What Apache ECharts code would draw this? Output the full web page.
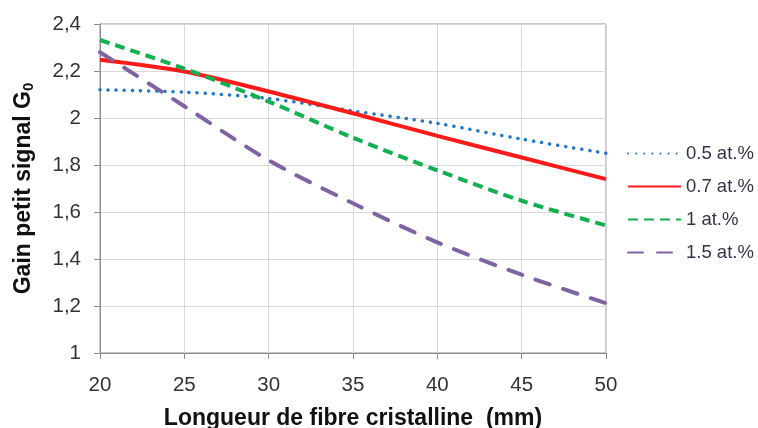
<!DOCTYPE html>
<html><head><meta charset="utf-8">
<script src="https://cdn.jsdelivr.net/npm/echarts@6/dist/echarts.min.js"></script>
<style>html,body{margin:0;padding:0;background:#fff}#c{width:758px;height:428px}</style>
</head><body><div id="c"></div>
<script>
var xValues = [20, 25, 30, 35, 40, 45, 50];
var s05 = [2.12, 2.11, 2.083, 2.03, 1.977, 1.91, 1.85];
var s07 = [2.248, 2.198, 2.113, 2.02, 1.924, 1.832, 1.74];
var s10 = [2.332, 2.21, 2.07, 1.916, 1.777, 1.648, 1.543];
var s15 = [2.28, 2.05, 1.82, 1.637, 1.471, 1.333, 1.212];
var seriesNames = ['0.5 at.%', '0.7 at.%', '1 at.%', '1.5 at.%'];
var xTicks = {min: 20, max: 50, step: 5};
var yTicks = {min: 1, max: 2.4, step: 0.2};

function pairs(v){ return xValues.map(function(x,i){ return [x, v[i]]; }); }
var chart = echarts.init(document.getElementById('c'), null, {renderer:'canvas'});
var font = '"Liberation Sans", Arial, sans-serif';
chart.setOption({
  animation: false,
  grid: {left: 100, top: 24, right: 152, bottom: 75, show: true, borderColor: '#8c8c8c', borderWidth: 1,
         containLabel: false, outerBoundsMode: 'none'},
  legend: {
    orient: 'vertical', left: 622, top: 139, itemWidth: 53, itemHeight: 12, itemGap: 14,
    itemStyle: {opacity: 0},
    textStyle: {fontFamily: font, fontSize: 18.5, color: '#3a2f48', padding: [0,0,0,0]},
    data: seriesNames
  },
  xAxis: {
    type: 'value', min: xTicks.min, max: xTicks.max, interval: xTicks.step,
    name: 'Longueur de fibre cristalline  (mm)', nameLocation: 'middle', nameGap: 54,
    nameTextStyle: {fontFamily: font, fontSize: 23, fontWeight: 'bold', color: '#111'},
    axisLine: {lineStyle: {color: '#8c8c8c', width: 1}},
    axisTick: {show: true, length: 6, inside: false, lineStyle: {color: '#8c8c8c'}},
    axisLabel: {fontFamily: font, fontSize: 20.5, color: '#333', margin: 22},
    splitLine: {show: true, lineStyle: {color: '#d9d9d9', width: 1}}
  },
  yAxis: {
    type: 'value', min: yTicks.min, max: yTicks.max, interval: yTicks.step,
    name: '{a|Gain petit signal G}{s|0}', nameLocation: 'middle', nameGap: 64, nameRotate: 90,
    nameTextStyle: {
      rich: {
        a: {fontFamily: font, fontSize: 23, fontWeight: 'bold', color: '#111'},
        s: {fontFamily: font, fontSize: 15, fontWeight: 'bold', color: '#111', verticalAlign: 'bottom', padding: [9,0,0,0]}
      }
    },
    axisLine: {show: true, lineStyle: {color: '#8c8c8c', width: 1}},
    axisTick: {show: true, length: 6, lineStyle: {color: '#8c8c8c'}},
    axisLabel: {fontFamily: font, fontSize: 20.5, color: '#333', margin: 19,
      formatter: function(v){ return String(Math.round(v*10)/10).replace('.', ','); }},
    splitLine: {show: true, lineStyle: {color: '#d9d9d9', width: 1}}
  },
  series: [
    {name: seriesNames[0], type: 'line', data: pairs(s05), smooth: 0.3, symbol: 'none',
     lineStyle: {color: '#1f77c8', width: 3.5, type: [0.1, 8], cap: 'round'}, itemStyle: {color: '#1f77c8'}},
    {name: seriesNames[1], type: 'line', data: pairs(s07), smooth: 0.3, symbol: 'none',
     lineStyle: {color: '#ff1a1a', width: 4, type: 'solid'}, itemStyle: {color: '#ff1a1a'}},
    {name: seriesNames[2], type: 'line', data: pairs(s10), smooth: 0.3, symbol: 'none',
     lineStyle: {color: '#13b050', width: 4, type: [10, 6]}, itemStyle: {color: '#13b050'}},
    {name: seriesNames[3], type: 'line', data: pairs(s15), smooth: 0.3, symbol: 'none',
     lineStyle: {color: '#7f63a3', width: 4, type: [15, 14], cap: 'round'}, itemStyle: {color: '#7f63a3'}}
  ]
});
</script></body></html>
